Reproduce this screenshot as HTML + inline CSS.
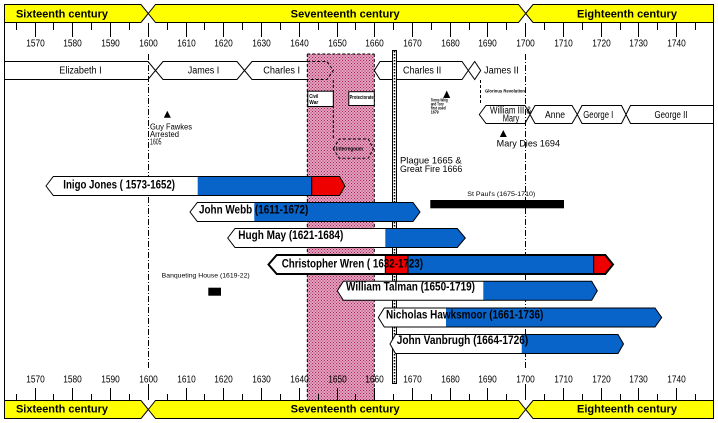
<!DOCTYPE html>
<html><head><meta charset="utf-8"><style>
html,body{margin:0;padding:0;background:#fff;}
svg{display:block;font-family:"Liberation Sans",Arial,sans-serif;}
</style></head><body>
<svg width="718" height="423" viewBox="0 0 718 423" xmlns="http://www.w3.org/2000/svg">
<defs>
<pattern id="pk" x="0" y="0" width="3" height="3" patternUnits="userSpaceOnUse">
<rect width="3" height="3" fill="#e2a3bf"/><rect x="0" y="0" width="1" height="1" fill="#a82058"/><rect x="1.5" y="1.5" width="1" height="1" fill="#a82058"/>
</pattern>
<clipPath id="c1"><polygon points="46,186 53.3,176.5 339.5,176.5 345,186 339.5,195.5 53.3,195.5"/></clipPath>
<clipPath id="c2"><polygon points="190,212 197.3,202.5 413,202.5 420,212 413,221.5 197.3,221.5"/></clipPath>
<clipPath id="c3"><polygon points="227.7,238 235,228.5 457.3,228.5 465.3,238 457.3,247.5 235,247.5"/></clipPath>
<clipPath id="c4"><polygon points="268.5,264.5 276.7,255 605.3,255 613,264.5 605.3,274 276.7,274"/></clipPath>
<clipPath id="c5"><polygon points="337.3,290.8 343.3,281.3 591.7,281.3 597.3,290.8 591.7,300.3 343.3,300.3"/></clipPath>
<clipPath id="c6"><polygon points="378.3,317.5 384.3,308 655,308 661.7,317.5 655,327 384.3,327"/></clipPath>
<clipPath id="c7"><polygon points="390,344 395.5,334.5 618,334.5 623.5,344 618,353.5 395.5,353.5"/></clipPath>
</defs>
<rect width="718" height="423" fill="#fff"/>

<line x1="4.5" y1="4" x2="4.5" y2="418.5" stroke="#000"/>
<line x1="713.5" y1="4" x2="713.5" y2="418.5" stroke="#000"/>

<g stroke="#000" stroke-width="1" fill="#ffff00">
<polygon points="4.5,4.5 141,4.5 148.3,13.5 141,22.5 4.5,22.5"/>
<polygon points="148.3,13.5 155.5,4.5 518.5,4.5 525.7,13.5 518.5,22.5 155.5,22.5"/>
<polygon points="525.7,13.5 533,4.5 713.5,4.5 713.5,22.5 533,22.5"/>
<polygon points="4.5,400.5 141,400.5 148.3,409.5 141,418.5 4.5,418.5"/>
<polygon points="148.3,409.5 155.5,400.5 518.5,400.5 525.7,409.5 518.5,418.5 155.5,418.5"/>
<polygon points="525.7,409.5 533,400.5 713.5,400.5 713.5,418.5 533,418.5"/>
</g>
<g font-weight="bold" font-size="11" fill="#000">
<text x="16" y="17.3" textLength="92" lengthAdjust="spacingAndGlyphs">Sixteenth century</text>
<text x="290.7" y="17.3" textLength="109" lengthAdjust="spacingAndGlyphs">Seventeenth century</text>
<text x="577" y="17.3" textLength="100" lengthAdjust="spacingAndGlyphs">Eighteenth century</text>
<text x="16" y="412.7" textLength="92" lengthAdjust="spacingAndGlyphs">Sixteenth century</text>
<text x="290.7" y="412.7" textLength="109" lengthAdjust="spacingAndGlyphs">Seventeenth century</text>
<text x="577" y="412.7" textLength="100" lengthAdjust="spacingAndGlyphs">Eighteenth century</text>
</g>

<g stroke="#000" stroke-width="1" fill="#fff">
<polygon points="4.5,61.5 148,61.5 155.5,70.5 148,79.5 4.5,79.5"/>
<polygon points="155.5,70.5 163,61.5 237,61.5 244.5,70.5 237,79.5 163,79.5"/>
<polygon points="244.5,70.5 252,61.5 327,61.5 333.3,70.5 327,79.5 252,79.5"/>
<polygon points="374.3,70.5 380,61.5 462,61.5 468.3,70.5 462,79.5 380,79.5"/>
<polygon points="468.3,70.5 474.7,61.5 480.7,70.5 474.7,79.5"/>
<polygon points="479.3,114.5 486,105.5 525,105.5 530,114.5 525,123.5 486,123.5"/>
<polygon points="530,114.5 535,105.5 572,105.5 577.3,114.5 572,123.5 535,123.5"/>
<polygon points="577.3,114.5 582,105.5 621.5,105.5 626,114.5 621.5,123.5 582,123.5"/>
<polygon points="626,114.5 630.5,105.5 713.5,105.5 713.5,123.5 630.5,123.5"/>
</g>

<rect x="307.3" y="54" width="67" height="346" fill="url(#pk)"/>
<g stroke="#000" stroke-width="1" fill="none" stroke-dasharray="3 2">
<line x1="307.3" y1="54" x2="307.3" y2="400"/>
<line x1="374.3" y1="54" x2="374.3" y2="400"/>
<line x1="307.3" y1="54" x2="374.3" y2="54"/>
<polyline points="307.3,61.5 327,61.5 333.3,70.5 327,79.5 307.3,79.5"/>
<line x1="333.3" y1="80" x2="333.3" y2="139"/>
<polygon points="333.3,148.7 339.3,139 368.3,139 373.3,148.7 368.3,158.3 339.3,158.3"/>
</g>

<g font-size="10" fill="#000">
<text x="59.3" y="73.5" textLength="42.3" lengthAdjust="spacingAndGlyphs">Elizabeth I</text>
<text x="187.7" y="73.5" textLength="31.6" lengthAdjust="spacingAndGlyphs">James I</text>
<text x="263.3" y="73.5" textLength="36.7" lengthAdjust="spacingAndGlyphs">Charles I</text>
<text x="403" y="73.5" textLength="38.3" lengthAdjust="spacingAndGlyphs">Charles II</text>
<text x="484" y="73.5" textLength="34.7" lengthAdjust="spacingAndGlyphs">James II</text>
<text x="490" y="113.5" textLength="41.7" lengthAdjust="spacingAndGlyphs">William III &amp;</text>
<text x="502.7" y="121.5" textLength="16.6" lengthAdjust="spacingAndGlyphs">Mary</text>
<text x="545" y="118" textLength="20" lengthAdjust="spacingAndGlyphs">Anne</text>
<text x="583.3" y="118" textLength="30" lengthAdjust="spacingAndGlyphs">George I</text>
<text x="654.5" y="118" textLength="33" lengthAdjust="spacingAndGlyphs">George II</text>
</g>

<rect x="307.8" y="91.2" width="25.5" height="15.3" fill="#fff" stroke="#000"/>
<rect x="348.8" y="91.7" width="25.5" height="13.8" fill="#fff" stroke="#000"/>
<g font-weight="bold" fill="#000">
<text x="309.3" y="97.8" font-size="5.5" textLength="9" lengthAdjust="spacingAndGlyphs">Civil</text>
<text x="309.3" y="104" font-size="5.5" textLength="9" lengthAdjust="spacingAndGlyphs">War</text>
<text x="349.6" y="98.8" font-size="5" textLength="24" lengthAdjust="spacingAndGlyphs">Protectorate</text>
<text x="336" y="150.5" font-size="5" textLength="27" lengthAdjust="spacingAndGlyphs">Interregnum</text>
</g>

<g stroke="#000" stroke-width="1">
<line x1="16.5" y1="23" x2="16.5" y2="30"/><line x1="35.5" y1="23" x2="35.5" y2="37"/><line x1="53.5" y1="23" x2="53.5" y2="30"/><line x1="72.5" y1="23" x2="72.5" y2="37"/><line x1="91.5" y1="23" x2="91.5" y2="30"/><line x1="110.5" y1="23" x2="110.5" y2="37"/><line x1="129.5" y1="23" x2="129.5" y2="30"/><line x1="148.5" y1="23" x2="148.5" y2="37"/><line x1="167.5" y1="23" x2="167.5" y2="30"/><line x1="186.5" y1="23" x2="186.5" y2="37"/><line x1="204.5" y1="23" x2="204.5" y2="30"/><line x1="223.5" y1="23" x2="223.5" y2="37"/><line x1="242.5" y1="23" x2="242.5" y2="30"/><line x1="261.5" y1="23" x2="261.5" y2="37"/><line x1="280.5" y1="23" x2="280.5" y2="30"/><line x1="299.5" y1="23" x2="299.5" y2="37"/><line x1="318.5" y1="23" x2="318.5" y2="30"/><line x1="337.5" y1="23" x2="337.5" y2="37"/><line x1="355.5" y1="23" x2="355.5" y2="30"/><line x1="374.5" y1="23" x2="374.5" y2="37"/><line x1="393.5" y1="23" x2="393.5" y2="30"/><line x1="412.5" y1="23" x2="412.5" y2="37"/><line x1="431.5" y1="23" x2="431.5" y2="30"/><line x1="450.5" y1="23" x2="450.5" y2="37"/><line x1="469.5" y1="23" x2="469.5" y2="30"/><line x1="487.5" y1="23" x2="487.5" y2="37"/><line x1="506.5" y1="23" x2="506.5" y2="30"/><line x1="525.5" y1="23" x2="525.5" y2="37"/><line x1="544.5" y1="23" x2="544.5" y2="30"/><line x1="563.5" y1="23" x2="563.5" y2="37"/><line x1="582.5" y1="23" x2="582.5" y2="30"/><line x1="601.5" y1="23" x2="601.5" y2="37"/><line x1="620.5" y1="23" x2="620.5" y2="30"/><line x1="638.5" y1="23" x2="638.5" y2="37"/><line x1="657.5" y1="23" x2="657.5" y2="30"/><line x1="676.5" y1="23" x2="676.5" y2="37"/><line x1="695.5" y1="23" x2="695.5" y2="30"/>
<line x1="16.5" y1="394" x2="16.5" y2="400"/><line x1="35.5" y1="388" x2="35.5" y2="400"/><line x1="53.5" y1="394" x2="53.5" y2="400"/><line x1="72.5" y1="388" x2="72.5" y2="400"/><line x1="91.5" y1="394" x2="91.5" y2="400"/><line x1="110.5" y1="388" x2="110.5" y2="400"/><line x1="129.5" y1="394" x2="129.5" y2="400"/><line x1="148.5" y1="384" x2="148.5" y2="400"/><line x1="167.5" y1="394" x2="167.5" y2="400"/><line x1="186.5" y1="388" x2="186.5" y2="400"/><line x1="204.5" y1="394" x2="204.5" y2="400"/><line x1="223.5" y1="388" x2="223.5" y2="400"/><line x1="242.5" y1="394" x2="242.5" y2="400"/><line x1="261.5" y1="388" x2="261.5" y2="400"/><line x1="280.5" y1="394" x2="280.5" y2="400"/><line x1="299.5" y1="388" x2="299.5" y2="400"/><line x1="318.5" y1="394" x2="318.5" y2="400"/><line x1="337.5" y1="388" x2="337.5" y2="400"/><line x1="355.5" y1="394" x2="355.5" y2="400"/><line x1="374.5" y1="388" x2="374.5" y2="400"/><line x1="393.5" y1="394" x2="393.5" y2="400"/><line x1="412.5" y1="388" x2="412.5" y2="400"/><line x1="431.5" y1="394" x2="431.5" y2="400"/><line x1="450.5" y1="388" x2="450.5" y2="400"/><line x1="469.5" y1="394" x2="469.5" y2="400"/><line x1="487.5" y1="388" x2="487.5" y2="400"/><line x1="506.5" y1="394" x2="506.5" y2="400"/><line x1="525.5" y1="384" x2="525.5" y2="400"/><line x1="544.5" y1="394" x2="544.5" y2="400"/><line x1="563.5" y1="388" x2="563.5" y2="400"/><line x1="582.5" y1="394" x2="582.5" y2="400"/><line x1="601.5" y1="388" x2="601.5" y2="400"/><line x1="620.5" y1="394" x2="620.5" y2="400"/><line x1="638.5" y1="388" x2="638.5" y2="400"/><line x1="657.5" y1="394" x2="657.5" y2="400"/><line x1="676.5" y1="388" x2="676.5" y2="400"/><line x1="695.5" y1="394" x2="695.5" y2="400"/>
</g>
<g font-size="10" fill="#000" text-anchor="middle">
<text x="35.5" y="46.5" textLength="18.5" lengthAdjust="spacingAndGlyphs">1570</text><text x="72.5" y="46.5" textLength="18.5" lengthAdjust="spacingAndGlyphs">1580</text><text x="110.5" y="46.5" textLength="18.5" lengthAdjust="spacingAndGlyphs">1590</text><text x="148.5" y="46.5" textLength="18.5" lengthAdjust="spacingAndGlyphs">1600</text><text x="186.5" y="46.5" textLength="18.5" lengthAdjust="spacingAndGlyphs">1610</text><text x="223.5" y="46.5" textLength="18.5" lengthAdjust="spacingAndGlyphs">1620</text><text x="261.5" y="46.5" textLength="18.5" lengthAdjust="spacingAndGlyphs">1630</text><text x="299.5" y="46.5" textLength="18.5" lengthAdjust="spacingAndGlyphs">1640</text><text x="337.5" y="46.5" textLength="18.5" lengthAdjust="spacingAndGlyphs">1650</text><text x="374.5" y="46.5" textLength="18.5" lengthAdjust="spacingAndGlyphs">1660</text><text x="412.5" y="46.5" textLength="18.5" lengthAdjust="spacingAndGlyphs">1670</text><text x="450.5" y="46.5" textLength="18.5" lengthAdjust="spacingAndGlyphs">1680</text><text x="487.5" y="46.5" textLength="18.5" lengthAdjust="spacingAndGlyphs">1690</text><text x="525.5" y="46.5" textLength="18.5" lengthAdjust="spacingAndGlyphs">1700</text><text x="563.5" y="46.5" textLength="18.5" lengthAdjust="spacingAndGlyphs">1710</text><text x="601.5" y="46.5" textLength="18.5" lengthAdjust="spacingAndGlyphs">1720</text><text x="638.5" y="46.5" textLength="18.5" lengthAdjust="spacingAndGlyphs">1730</text><text x="676.5" y="46.5" textLength="18.5" lengthAdjust="spacingAndGlyphs">1740</text>
<text x="35.5" y="382.7" textLength="18.5" lengthAdjust="spacingAndGlyphs">1570</text><text x="72.5" y="382.7" textLength="18.5" lengthAdjust="spacingAndGlyphs">1580</text><text x="110.5" y="382.7" textLength="18.5" lengthAdjust="spacingAndGlyphs">1590</text><text x="148.5" y="382.7" textLength="18.5" lengthAdjust="spacingAndGlyphs">1600</text><text x="186.5" y="382.7" textLength="18.5" lengthAdjust="spacingAndGlyphs">1610</text><text x="223.5" y="382.7" textLength="18.5" lengthAdjust="spacingAndGlyphs">1620</text><text x="261.5" y="382.7" textLength="18.5" lengthAdjust="spacingAndGlyphs">1630</text><text x="299.5" y="382.7" textLength="18.5" lengthAdjust="spacingAndGlyphs">1640</text><text x="337.5" y="382.7" textLength="18.5" lengthAdjust="spacingAndGlyphs">1650</text><text x="374.5" y="382.7" textLength="18.5" lengthAdjust="spacingAndGlyphs">1660</text><text x="412.5" y="382.7" textLength="18.5" lengthAdjust="spacingAndGlyphs">1670</text><text x="450.5" y="382.7" textLength="18.5" lengthAdjust="spacingAndGlyphs">1680</text><text x="487.5" y="382.7" textLength="18.5" lengthAdjust="spacingAndGlyphs">1690</text><text x="525.5" y="382.7" textLength="18.5" lengthAdjust="spacingAndGlyphs">1700</text><text x="563.5" y="382.7" textLength="18.5" lengthAdjust="spacingAndGlyphs">1710</text><text x="601.5" y="382.7" textLength="18.5" lengthAdjust="spacingAndGlyphs">1720</text><text x="638.5" y="382.7" textLength="18.5" lengthAdjust="spacingAndGlyphs">1730</text><text x="676.5" y="382.7" textLength="18.5" lengthAdjust="spacingAndGlyphs">1740</text>
</g>

<g stroke="#000" stroke-width="1" stroke-dasharray="6 2 1 2" fill="none">
<line x1="148.5" y1="54" x2="148.5" y2="368"/>
<line x1="525.5" y1="54" x2="525.5" y2="368"/>
</g>
<line x1="480.5" y1="80" x2="480.5" y2="105" stroke="#000" stroke-dasharray="3 2"/>

<rect x="392.5" y="50.5" width="4" height="333" fill="#fff" stroke="#000" stroke-width="1"/>
<line x1="394.5" y1="51" x2="394.5" y2="383" stroke="#000" stroke-width="1.5" stroke-dasharray="1.5 1.5"/>

<g fill="#000">
<polygon points="167.3,110.7 163.8,117.7 170.8,117.7"/>
<polygon points="446.7,90.5 443.2,98 450.2,98"/>
<polygon points="503.3,130 499.8,137 506.8,137"/>
<rect x="430.3" y="200" width="133.7" height="8.3"/>
<rect x="208.3" y="287.7" width="12.7" height="8"/>
</g>
<g fill="#000">
<text x="150" y="129.5" font-size="8" textLength="42" lengthAdjust="spacingAndGlyphs">Guy Fawkes</text>
<text x="150" y="137" font-size="8" textLength="29" lengthAdjust="spacingAndGlyphs">Arrested</text>
<text x="150" y="144.5" font-size="8" textLength="11.5" lengthAdjust="spacingAndGlyphs">1605</text>
<text x="496.7" y="146.7" font-size="9" textLength="63.3" lengthAdjust="spacingAndGlyphs">Mary Dies 1694</text>
<text x="400" y="163.5" font-size="9.5" textLength="61.7" lengthAdjust="spacingAndGlyphs">Plague 1665 &amp;</text>
<text x="400" y="172" font-size="9.5" textLength="62.3" lengthAdjust="spacingAndGlyphs">Great Fire 1666</text>
<text x="485" y="92.5" font-size="4.5" font-weight="bold" textLength="40" lengthAdjust="spacingAndGlyphs">Glorious Revolution</text>
<text x="430.7" y="101.5" font-size="4.5" font-weight="bold" textLength="17" lengthAdjust="spacingAndGlyphs">Terms Whig</text>
<text x="430.7" y="105.5" font-size="4.5" font-weight="bold" textLength="13" lengthAdjust="spacingAndGlyphs">and Tory</text>
<text x="430.7" y="109.5" font-size="4.5" font-weight="bold" textLength="15" lengthAdjust="spacingAndGlyphs">first used</text>
<text x="430.7" y="113.5" font-size="4.5" font-weight="bold" textLength="8" lengthAdjust="spacingAndGlyphs">1679</text>
<text x="467.3" y="196" font-size="6" textLength="68" lengthAdjust="spacingAndGlyphs">St Paul's (1675-1710)</text>
<text x="161.7" y="277.3" font-size="6" textLength="88" lengthAdjust="spacingAndGlyphs">Banqueting House (1619-22)</text>
</g>

<g clip-path="url(#c1)"><rect x="40" y="170" width="158" height="30" fill="#fff"/><rect x="197.7" y="170" width="114" height="30" fill="#0864c8"/><rect x="311.7" y="170" width="40" height="30" fill="#ee0000"/></g>
<line x1="311.7" y1="176.5" x2="311.7" y2="195.5" stroke="#000"/>
<polygon points="46,186 53.3,176.5 339.5,176.5 345,186 339.5,195.5 53.3,195.5" fill="none" stroke="#000"/>

<g clip-path="url(#c2)"><rect x="185" y="196" width="70" height="30" fill="#fff"/><rect x="254.3" y="196" width="170" height="30" fill="#0864c8"/></g>
<polygon points="190,212 197.3,202.5 413,202.5 420,212 413,221.5 197.3,221.5" fill="none" stroke="#000"/>

<g clip-path="url(#c3)"><rect x="220" y="222" width="166" height="30" fill="#fff"/><rect x="385.3" y="222" width="90" height="30" fill="#0864c8"/></g>
<polygon points="227.7,238 235,228.5 457.3,228.5 465.3,238 457.3,247.5 235,247.5" fill="none" stroke="#000"/>

<g clip-path="url(#c4)"><rect x="260" y="250" width="126" height="30" fill="#fff"/><rect x="385.3" y="250" width="23" height="30" fill="#ee0000"/><rect x="408" y="250" width="186" height="30" fill="#0864c8"/><rect x="593.7" y="250" width="25" height="30" fill="#ee0000"/></g>
<g stroke="#000"><line x1="385.3" y1="255" x2="385.3" y2="274"/><line x1="408" y1="255" x2="408" y2="274"/><line x1="593.7" y1="255" x2="593.7" y2="274"/></g>
<polygon points="268.5,264.5 276.7,255 605.3,255 613,264.5 605.3,274 276.7,274" fill="none" stroke="#000" stroke-width="2"/>

<g clip-path="url(#c5)"><rect x="330" y="276" width="154" height="30" fill="#fff"/><rect x="483.3" y="276" width="120" height="30" fill="#0864c8"/></g>
<polygon points="337.3,290.8 343.3,281.3 591.7,281.3 597.3,290.8 591.7,300.3 343.3,300.3" fill="none" stroke="#000"/>

<g clip-path="url(#c6)"><rect x="370" y="302" width="77" height="30" fill="#fff"/><rect x="446" y="302" width="220" height="30" fill="#0864c8"/></g>
<polygon points="378.3,317.5 384.3,308 655,308 661.7,317.5 655,327 384.3,327" fill="none" stroke="#000"/>

<g clip-path="url(#c7)"><rect x="385" y="328" width="137" height="30" fill="#fff"/><rect x="521.7" y="328" width="110" height="30" fill="#0864c8"/></g>
<polygon points="390,344 395.5,334.5 618,334.5 623.5,344 618,353.5 395.5,353.5" fill="none" stroke="#000"/>

<g font-weight="bold" font-size="11.5" fill="#000">
<text x="63.3" y="188.5" textLength="111.7" lengthAdjust="spacingAndGlyphs">Inigo Jones ( 1573-1652)</text>
<text x="199" y="213.5" textLength="109.3" lengthAdjust="spacingAndGlyphs">John Webb (1611-1672)</text>
<text x="238.3" y="239" textLength="105" lengthAdjust="spacingAndGlyphs">Hugh May (1621-1684)</text>
<text x="281.7" y="267.7" font-size="12" textLength="141.3" lengthAdjust="spacingAndGlyphs">Christopher Wren ( 1632-1723)</text>
<text x="346" y="290.7" textLength="129" lengthAdjust="spacingAndGlyphs">William Talman (1650-1719)</text>
<text x="386" y="318.3" textLength="157.3" lengthAdjust="spacingAndGlyphs">Nicholas Hawksmoor (1661-1736)</text>
<text x="396.7" y="344.2" textLength="131.6" lengthAdjust="spacingAndGlyphs">John Vanbrugh (1664-1726)</text>
</g>
</svg>
</body></html>
